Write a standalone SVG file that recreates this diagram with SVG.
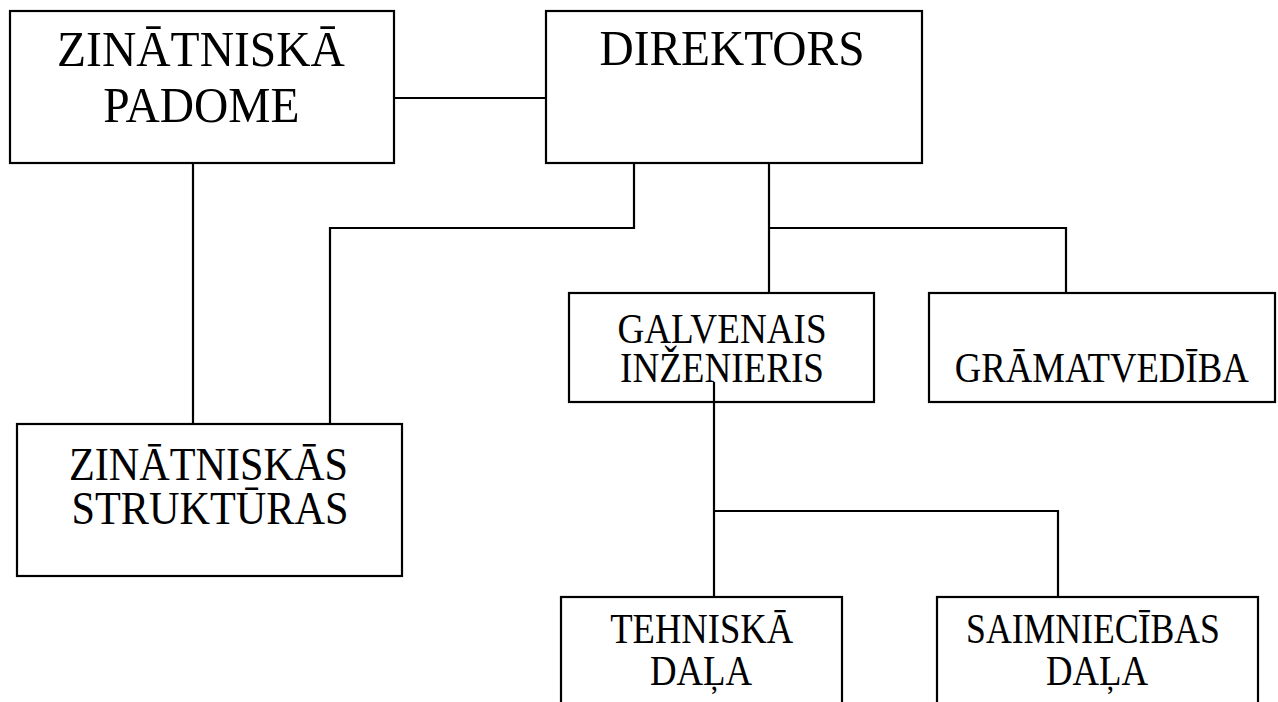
<svg xmlns="http://www.w3.org/2000/svg" width="1278" height="702" viewBox="0 0 1278 702">
<style>
.box{fill:#fff;stroke:#000;stroke-width:2.2}
.ln{fill:none;stroke:#000;stroke-width:2.2}
text{font-family:"Liberation Serif","Times New Roman",serif;fill:#000;text-anchor:middle}
.big{font-size:50px}
.big2{font-size:47px}
.sm{font-size:42px}
</style>
<rect width="1278" height="702" fill="#fff"/>
<g id="connectors">
<path class="ln" d="M394 98H546"/>
<path class="ln" d="M193 163V424"/>
<path class="ln" d="M634 163V228H330V424"/>
<path class="ln" d="M769 163V293"/>
<path class="ln" d="M769 228H1066V293"/>
<path class="ln" d="M714 511H1058V597"/>
</g>
<g id="zinatniska-padome">
<rect class="box" x="10" y="11" width="384" height="152"/>
<text class="big" transform="translate(201 0) scale(0.951 1)" x="0" y="66">ZINĀTNISKĀ</text>
<text class="big" transform="translate(201.4 0) scale(0.95 1)" x="0" y="122">PADOME</text>
</g>
<g id="direktors">
<rect class="box" x="546" y="11" width="376" height="152"/>
<text class="big" transform="translate(732 0) scale(0.948 1)" x="0" y="65">DIREKTORS</text>
</g>
<g id="zinatniskas-strukturas">
<rect class="box" x="17" y="424" width="385" height="152"/>
<text class="big2" transform="translate(208.5 0) scale(0.898 1)" x="0" y="480">ZINĀTNISKĀS</text>
<text class="big2" transform="translate(210 0) scale(0.899 1)" x="0" y="524">STRUKTŪRAS</text>
</g>
<g id="galvenais-inzenieris">
<rect class="box" x="569" y="293" width="305" height="109"/>
<text class="sm" transform="translate(722 0) scale(0.885 1)" x="0" y="343">GALVENAIS</text>
<text class="sm" transform="translate(722 0) scale(0.883 1)" x="0" y="382">INŽENIERIS</text>
</g>
<g id="gramatvediba">
<rect class="box" x="929" y="293" width="346" height="109"/>
<text class="sm" transform="translate(1101.7 0) scale(0.875 1)" x="0" y="382">GRĀMATVEDĪBA</text>
</g>
<g id="tehniska-dala">
<rect class="box" x="561" y="597" width="281" height="120"/>
<text class="sm" transform="translate(701.7 0) scale(0.872 1)" x="0" y="643">TEHNISKĀ</text>
<text class="sm" transform="translate(701 0) scale(0.875 1)" x="0" y="685">DAĻA</text>
</g>
<g id="saimniecibas-dala">
<rect class="box" x="937" y="597" width="321" height="120"/>
<text class="sm" transform="translate(1093 0) scale(0.85 1)" x="0" y="643">SAIMNIECĪBAS</text>
<text class="sm" transform="translate(1097 0) scale(0.875 1)" x="0" y="685">DAĻA</text>
</g>
<g id="connector-inzenieris">
<path class="ln" d="M714 382V597"/>
</g>
</svg>
